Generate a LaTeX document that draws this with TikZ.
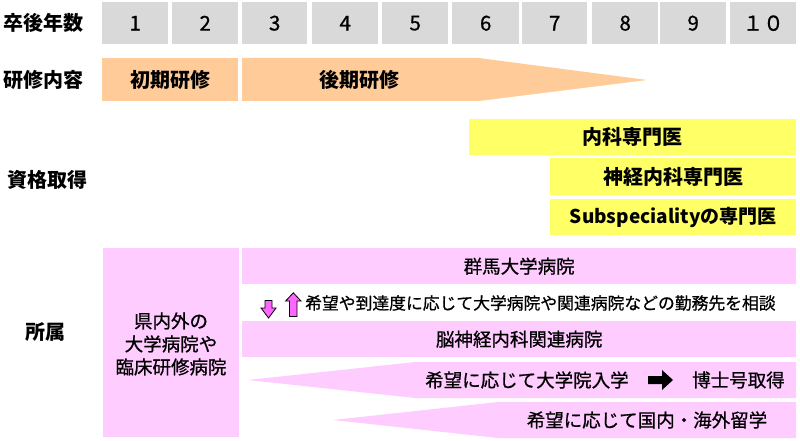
\documentclass[tikz,border=0pt]{standalone}
\usepackage{fontspec}
\setmainfont{Noto Sans CJK JP}
\newfontfamily\medfont{Noto Sans CJK JP}[FakeBold=0.8]
\definecolor{hgray}{HTML}{D9D9D9}
\definecolor{horange}{HTML}{FFCC99}
\definecolor{hyellow}{HTML}{FFFF66}
\definecolor{hpink}{HTML}{FFCCFF}
\definecolor{hmag}{HTML}{FF66FF}
\tikzset{
  lab/.style={font=\bfseries\fontsize{20}{24}\selectfont, anchor=west, inner sep=0pt},
  cell/.style={fill=hgray, anchor=north west, inner sep=0pt, minimum height=42pt,
    font=\medfont\fontsize{20.5}{24}\selectfont},
  obox/.style={fill=horange, anchor=north west, inner sep=0pt, minimum height=43pt,
    font=\bfseries\fontsize{20}{24}\selectfont},
  ybox/.style={fill=hyellow, anchor=north west, inner sep=0pt,
    font=\bfseries\fontsize{20}{24}\selectfont},
  pbox/.style={fill=hpink, anchor=north west, inner sep=0pt, minimum height=36pt,
    font=\medfont\fontsize{18.5}{22}\selectfont},
  ptxt/.style={inner sep=0pt, font=\medfont\fontsize{18.5}{22}\selectfont},
  updown/.style={fill=hmag, draw=black, line width=0.8pt, line join=miter},
}
\begin{document}
\begin{tikzpicture}[x=1pt,y=-1pt]
\useasboundingbox (0,0) rectangle (800,441);
% left labels
\node[lab] (l1) at (3,23) {卒後年数};
\node[lab] (l2) at (3,80) {研修内容};
\node[lab] (l3) at (7,180) {資格取得};
\node[lab] (l4) at (25,332) {所属};
% header cells
\node[cell, minimum width=66pt] (c1) at (102,2) {1};
\node[cell, minimum width=66pt] (c2) at (172,2) {2};
\node[cell, minimum width=65pt] (c3) at (242,2) {3};
\node[cell, minimum width=66pt] (c4) at (312,2) {4};
\node[cell, minimum width=66pt] (c5) at (382,2) {5};
\node[cell, minimum width=67pt] (c6) at (452,2) {6};
\node[cell, minimum width=65pt] (c7) at (522,2) {7};
\node[cell, minimum width=66pt] (c8) at (592,2) {8};
\node[cell, minimum width=66pt] (c9) at (660,2) {9};
\node[cell, minimum width=66pt] (c10) at (730,2) {１０};
% training row
\node[obox, minimum width=136pt] (shoki) at (102,58) {初期研修};
\fill[horange] (242,58) -- (479,58) -- (647,80) -- (479,101) -- (242,101) -- cycle;
\node[inner sep=0pt, font=\bfseries\fontsize{20}{24}\selectfont] (koki) at (359,80) {後期研修};
% qualifications
\node[ybox, minimum width=327pt, minimum height=36pt] (y1) at (469,119) {内科専門医};
\node[ybox, minimum width=246pt, minimum height=37pt] (y2) at (550,158) {神経内科専門医};
\node[ybox, minimum width=246pt, minimum height=36pt, font=\bfseries\fontsize{19}{23}\selectfont] (y3) at (550,199) {Subspecialityの専門医};
% affiliation
\node[pbox, minimum width=136pt, minimum height=189pt] (col) at (103,248) {};
\node[ptxt, align=center, font=\medfont\fontsize{18.5}{23}\selectfont] (coltxt) at (171,344) {県内外の\\大学病院や\\臨床研修病院};
\node[pbox, minimum width=554pt] (gunma) at (242,248) {群馬大学病院};
\node[inner sep=0pt, anchor=west, font=\medfont\fontsize{16.8}{20}\selectfont] (soudan) at (305,303) {希望や到達度に応じて大学病院や関連病院などの勤務先を相談};
\draw[updown] (265,300.5) -- (272,300.5) -- (272,308) -- (276,308) -- (268.5,318) -- (261,308) -- (265,308) -- cycle;
\draw[updown] (289.5,316.5) -- (297,316.5) -- (297,301) -- (301,301) -- (293.3,292.8) -- (285.6,301) -- (289.5,301) -- cycle;
\node[pbox, minimum width=554pt] (nou) at (242,321) {脳神経内科関連病院};
\fill[hpink] (248,380) -- (415,362) -- (796,362) -- (796,398) -- (415,398) -- cycle;
\node[ptxt, anchor=west] (daigakuin) at (425,380) {希望に応じて大学院入学};
\fill[black] (648,376) -- (662,376) -- (662,370) -- (673,380) -- (662,390) -- (662,384) -- (648,384) -- cycle;
\node[ptxt, anchor=west] (hakase) at (692,380) {博士号取得};
\fill[hpink] (333,420) -- (498,402) -- (796,402) -- (796,438) -- (498,438) -- cycle;
\node[ptxt] (ryugaku) at (647,420) {希望に応じて国内・海外留学};
\end{tikzpicture}
\end{document}
